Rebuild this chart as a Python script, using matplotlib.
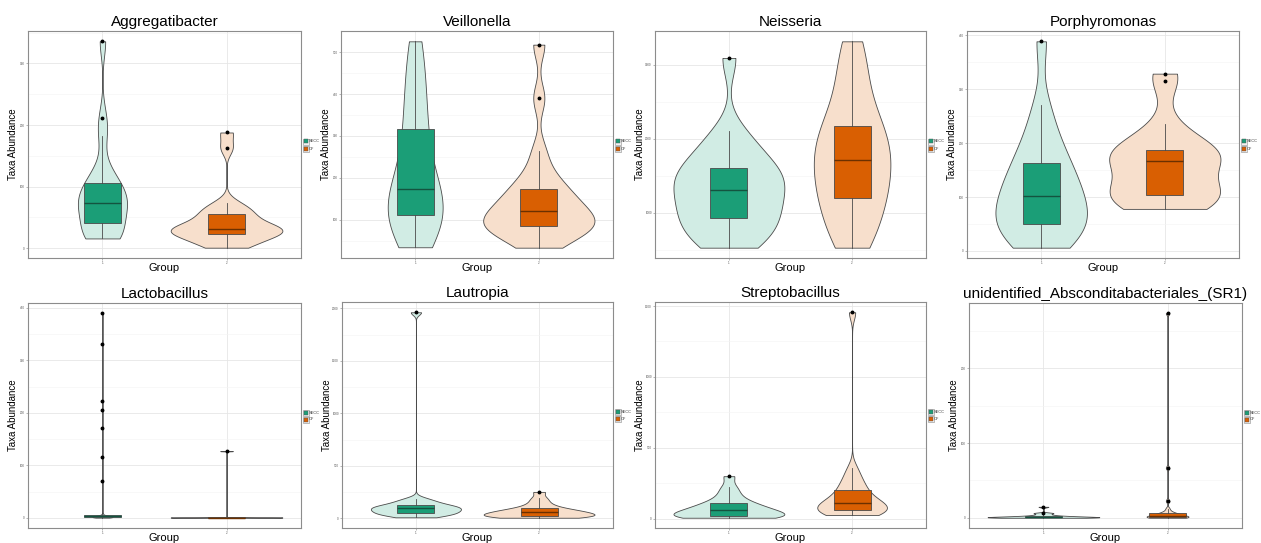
import numpy as np
import matplotlib
matplotlib.use("Agg")
import matplotlib.pyplot as plt
from matplotlib.patches import Rectangle

plt.rcParams["font.family"] = ["Liberation Sans", "DejaVu Sans"]

GROUPS = ["SECC", "CF"]
TITLES = [
    "Aggregatibacter", "Veillonella", "Neisseria", "Porphyromonas",
    "Lactobacillus", "Lautropia", "Streptobacillus",
    "unidentified_Absconditabacteriales_(SR1)",
]

# per-sample abundances, estimated from the violins / boxes
AGGREGATIBACTER_SECC = [16, 17, 18, 20, 30, 41, 50, 58, 64, 70, 74, 80, 86, 92, 98, 106, 115, 130, 182, 211, 336]
AGGREGATIBACTER_CF = [1, 5, 10, 15, 20, 24, 26, 28, 29, 30, 32, 34, 38, 44, 50, 55, 60, 66, 73, 163, 188]
VEILLONELLA_SECC = [34, 50, 70, 90, 100, 110, 120, 130, 140, 155, 173, 190, 215, 245, 280, 316, 350, 390, 430, 480, 526]
VEILLONELLA_CF = [33, 50, 65, 75, 80, 84, 90, 95, 100, 108, 120, 128, 138, 150, 162, 174, 190, 215, 263, 390, 518]
NEISSERIA_SECC = [528, 600, 680, 760, 850, 928, 1000, 1070, 1140, 1220, 1306, 1380, 1440, 1500, 1550, 1602, 1700, 1820, 1950, 2101, 3090]
NEISSERIA_CF = [528, 650, 800, 950, 1080, 1198, 1300, 1400, 1500, 1600, 1710, 1800, 1900, 2000, 2090, 2178, 2350, 2550, 2800, 3050, 3315]
PORPHYROMONAS_SECC = [6, 15, 25, 35, 42, 50, 60, 70, 80, 90, 102, 112, 122, 135, 150, 164, 180, 200, 230, 270, 389]
PORPHYROMONAS_CF = [78, 82, 88, 94, 99, 104, 112, 120, 130, 145, 166, 170, 174, 178, 182, 187, 195, 210, 236, 315, 329]
LACTOBACILLUS_SECC = [0.2, 0.3, 0.4, 0.5, 0.6, 0.7, 0.8, 0.9, 1.0, 1.0, 1.1, 1.3, 1.5, 1.7, 1.9, 2.0, 2.1, 2.2, 2.3, 2.4,
                      2.5, 2.7, 2.9, 3.1, 3.3, 3.5, 3.7, 3.9, 4.1, 4.3, 4.5, 5.2, 6.0, 8.0,
                      70, 116, 172, 206, 223, 331, 390]
LACTOBACILLUS_CF = [0.0, 0.05, 0.1, 0.15, 0.2, 0.25, 0.3, 0.35, 0.4, 0.45, 0.5, 0.55, 0.6, 0.65, 0.7, 0.75, 0.8, 0.9, 1.0, 1.2, 127]
LAUTROPIA_SECC = [10, 22, 32, 40, 48, 54, 62, 70, 78, 86, 94, 100, 106, 112, 118, 126, 140, 155, 170, 189, 1962]
LAUTROPIA_CF = [6, 10, 14, 18, 22, 25, 30, 36, 42, 50, 57, 62, 68, 75, 84, 94, 110, 130, 160, 195, 252]
STREPTOBACILLUS_SECC = [7, 10, 12, 14, 16, 19, 24, 30, 38, 48, 59, 66, 74, 84, 96, 108, 125, 150, 185, 225, 300]
STREPTOBACILLUS_CF = [26, 30, 36, 44, 52, 61, 70, 80, 88, 98, 108, 120, 135, 155, 180, 204, 230, 260, 300, 356, 1456]
SR1_SECC = [0.0, 0.1, 0.2, 0.3, 0.4, 0.5, 0.6, 0.8, 0.9, 1.0, 1.2, 1.4, 1.7, 2.0, 2.3, 2.7, 3.5, 4.5, 6.0, 6.5, 14.7]
SR1_CF = [0.0, 0.1, 0.2, 0.3, 0.35, 0.4, 0.8, 1.2, 1.6, 2.0, 2.5, 3.0, 3.6, 4.3, 5.0, 5.8, 6.8, 8.5, 12.4, 22.7, 67, 274]

Y_TICKS = [
    [0, 100, 200, 300],
    [100, 200, 300, 400, 500],
    [1000, 2000, 3000],
    [0, 100, 200, 300, 400],
    [0, 100, 200, 300, 400],
    [0, 500, 1000, 1500, 2000],
    [0, 500, 1000, 1500],
    [0, 100, 200],
]

PANELS = list(zip(
    TITLES,
    [AGGREGATIBACTER_SECC, VEILLONELLA_SECC, NEISSERIA_SECC, PORPHYROMONAS_SECC,
     LACTOBACILLUS_SECC, LAUTROPIA_SECC, STREPTOBACILLUS_SECC, SR1_SECC],
    [AGGREGATIBACTER_CF, VEILLONELLA_CF, NEISSERIA_CF, PORPHYROMONAS_CF,
     LACTOBACILLUS_CF, LAUTROPIA_CF, STREPTOBACILLUS_CF, SR1_CF],
    Y_TICKS,
))

W, H = 1261, 543
# plot-area boxes in pixels: left, top, right, bottom
BOXES = [
    (28, 31, 301, 258), (341, 31, 613, 258), (655, 31, 926, 258), (967, 31, 1239, 258),
    (28, 303, 301, 528), (342, 302, 613, 528), (655, 302, 926, 528), (969, 303, 1242, 528),
]

DARK = ["#1B9E77", "#D95F02"]
LIGHT = ["#D1ECE4", "#F7DFCC"]
MEDIAN = ["#14533F", "#6B3000"]
EDGE = "#4A4A4A"


def ydensity(vals):
    v = np.asarray(vals, float)
    n = v.size
    q25, q75 = np.percentile(v, [25, 75])
    sd = v.std(ddof=1)
    lo = min(sd, (q75 - q25) / 1.34) or sd
    bw = 0.9 * lo * n ** -0.2
    y = np.linspace(v.min(), v.max(), 512)
    d = np.exp(-0.5 * ((y[:, None] - v[None, :]) / bw) ** 2).sum(axis=1)
    return y, d / (n * bw * np.sqrt(2 * np.pi))


def legend(x0, yc):
    kw, kh = 6, 6
    for i, name in enumerate(GROUPS):
        top = yc - kh + i * (kh + 1)
        fig.patches.append(Rectangle((x0 / W, 1 - (top + kh) / H), kw / W, kh / H,
                                     transform=fig.transFigure, facecolor="#F2F2F2",
                                     edgecolor="#8C8C8C", linewidth=0.4))
        fig.patches.append(Rectangle(((x0 + 1) / W, 1 - (top + kh - 1) / H), (kw - 2) / W, (kh - 2) / H,
                                     transform=fig.transFigure, facecolor=DARK[i],
                                     edgecolor="#555555", linewidth=0.3))
        fig.text((x0 + kw + 0.5) / W, 1 - (top + kh / 2) / H, name, fontsize=2.8,
                 color="#333333", ha="left", va="center")


fig = plt.figure(figsize=(W / 100, H / 100), dpi=100)

for (title, secc, cf, ticks), (l, t, r, b) in zip(PANELS, BOXES):
    ax = fig.add_axes([l / W, 1 - b / H, (r - l) / W, (b - t) / H])
    groups = [secc, cf]
    dens = [ydensity(g) for g in groups]
    dmax = max(d.max() for _, d in dens)
    for i, (g, (y, d)) in enumerate(zip(groups, dens)):
        x = i + 1
        hw = 0.45 * d / dmax
        ax.fill_betweenx(y, x - hw, x + hw, facecolor=LIGHT[i], edgecolor=EDGE,
                         linewidth=0.6, zorder=2)
        ax.boxplot([g], positions=[x], widths=0.3, patch_artist=True, showcaps=False,
                   whis=1.5, manage_ticks=False, zorder=3,
                   boxprops=dict(facecolor=DARK[i], edgecolor=EDGE, linewidth=0.6),
                   medianprops=dict(color=MEDIAN[i], linewidth=1.0),
                   whiskerprops=dict(color=EDGE, linewidth=0.6),
                   flierprops=dict(marker="o", markersize=1.8, markerfacecolor="black",
                                   markeredgecolor="black"))

    allv = np.concatenate([secc, cf])
    lo, hi = allv.min(), allv.max()
    span = hi - lo
    y0, y1 = lo - 0.05 * span, hi + 0.05 * span
    ax.set_ylim(y0, y1)
    ax.set_xlim(0.4, 2.6)
    step = ticks[1] - ticks[0]
    minors = [m for m in np.arange(ticks[0] - step / 2, y1, step) if y0 < m < y1]
    ax.set_yticks(ticks)
    ax.set_yticklabels([str(v) for v in ticks])
    ax.set_yticks(minors, minor=True)
    ax.set_xticks([1, 2])
    ax.set_xticklabels(["1", "2"])
    ax.grid(which="major", color="#E6E6E6", linewidth=0.6, zorder=0)
    ax.grid(which="minor", axis="y", color="#F3F3F3", linewidth=0.4, zorder=0)
    ax.set_axisbelow(True)
    ax.tick_params(which="major", length=1.5, width=0.4, color="#7F7F7F",
                   labelsize=2.2, labelcolor="#555555", pad=0.8)
    ax.tick_params(which="minor", length=0)
    for s in ax.spines.values():
        s.set_color("#8C8C8C")
        s.set_linewidth(0.8)

    fig.text((l + r) / 2 / W, 1 - (t - 9) / H, title, fontsize=11, ha="center", va="center")
    fig.text((l + r) / 2 / W, 1 - (b + 10) / H, "Group", fontsize=8, ha="center", va="center")
    fig.text((l - 15) / W, 1 - (t + b) / 2 / H, "Taxa Abundance", fontsize=7,
             rotation=90, ha="center", va="center")
    legend(r + 1.5, (t + b) / 2)

fig.savefig("out.png", dpi=100)
